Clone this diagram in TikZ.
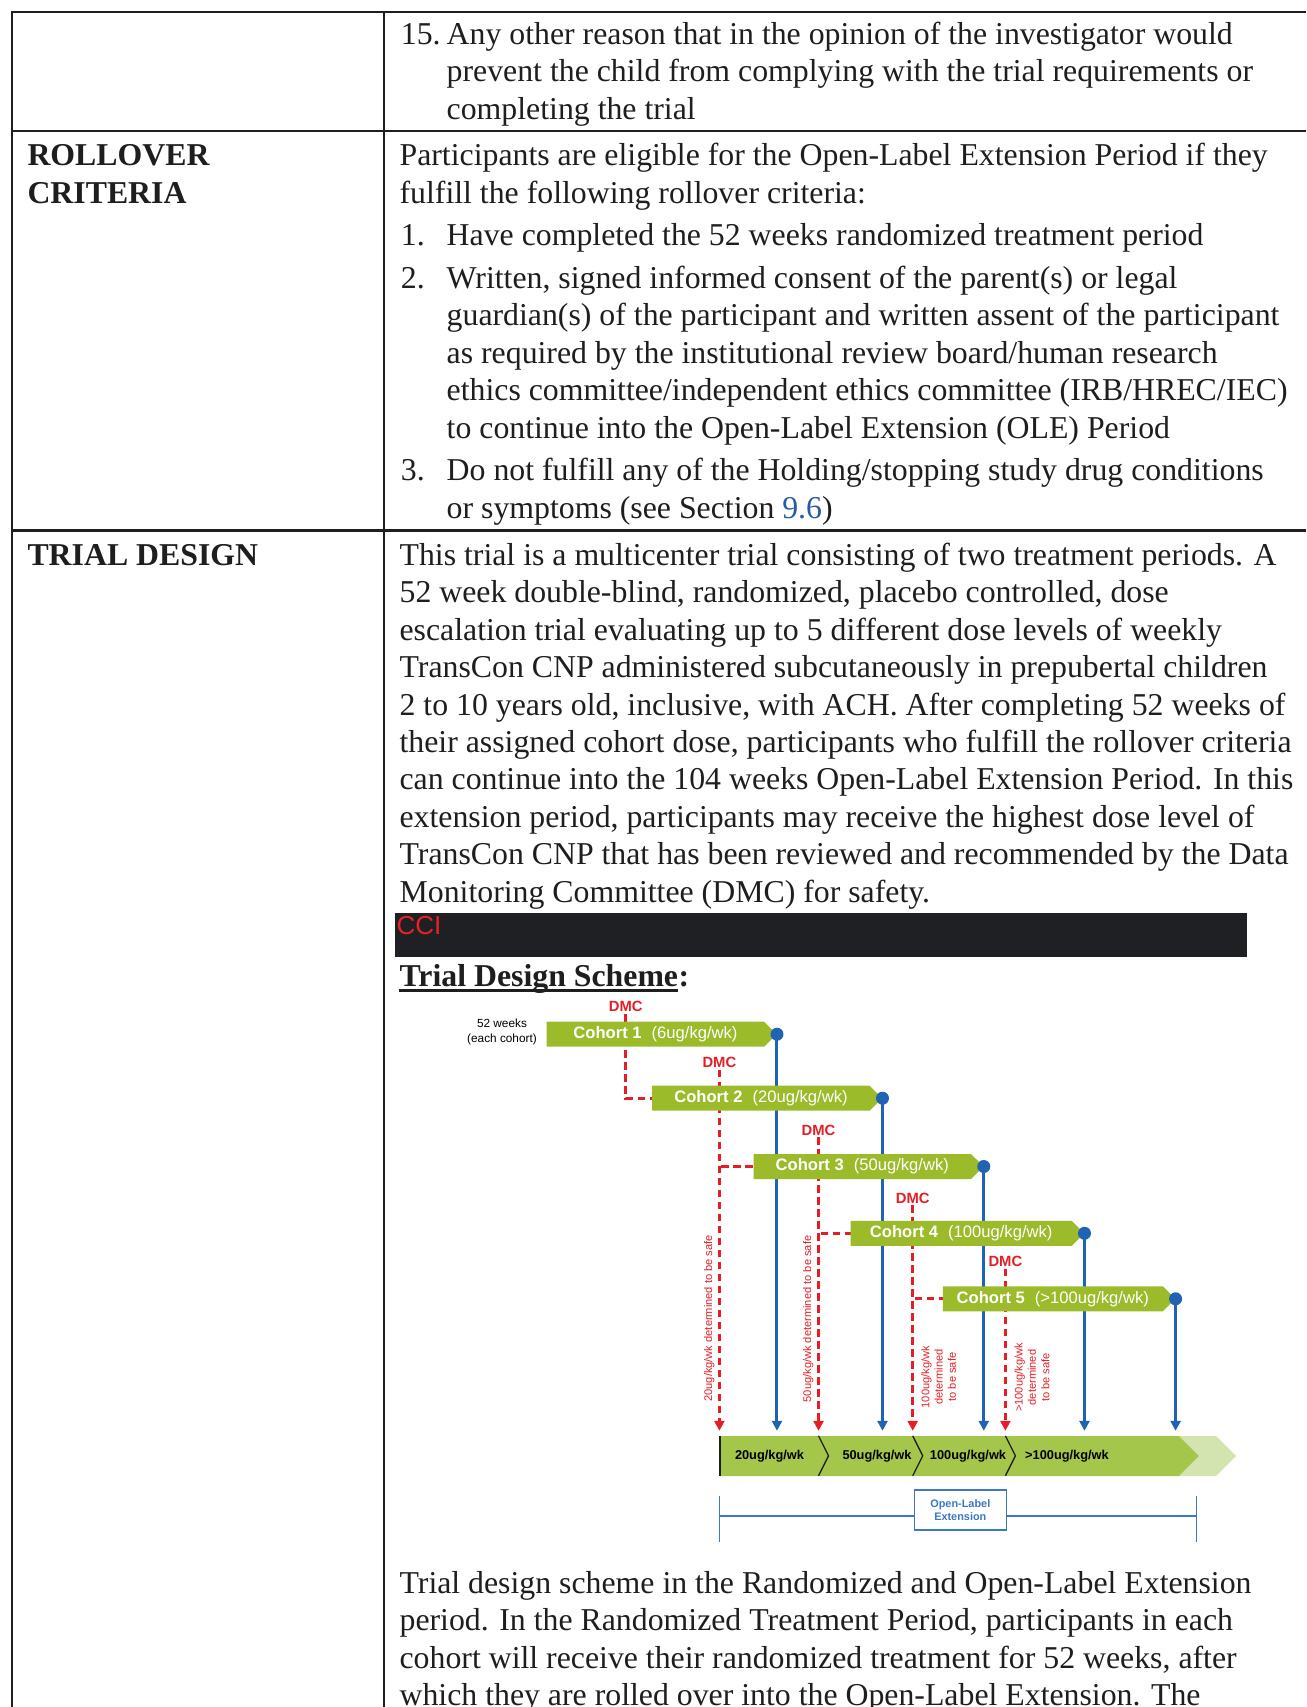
\documentclass[tikz,border=0pt]{standalone}
\usepackage{fontspec}
\setmainfont{Liberation Serif}[Ligatures=NoCommon]
\setsansfont{Liberation Sans}
\usepackage{xcolor}
\usetikzlibrary{arrows.meta,calc,positioning,shapes.symbols,backgrounds}
\definecolor{ink}{HTML}{1E1E1E}
\definecolor{linkblue}{HTML}{2A59A8}
\definecolor{ccibox}{HTML}{1F2023}
\definecolor{ccired}{HTML}{E8202A}
\definecolor{cohortgreen}{HTML}{9BBB2B}
\definecolor{olegreen}{HTML}{A4C64A}
\definecolor{fadegreen}{HTML}{D3E4B0}
\definecolor{dmcred}{HTML}{E41E26}
\definecolor{doseblue}{HTML}{1F63B2}
\definecolor{olebox}{HTML}{3C78C3}
\newcommand{\bodysize}{\fontsize{31.8}{37.45}\selectfont}

\begin{document}
\begin{tikzpicture}[x=1pt,y=-1pt,>={Triangle[length=10pt,width=10pt]}]
    \tikzset{
      body/.style={anchor=base west, inner sep=0pt, font=\bodysize, text=ink},
      head/.style={body, font=\bodysize\bfseries},
      rule/.style={draw=ink, line width=2.2pt},
      cohort/.style={signal, signal to=east, anchor=west, fill=cohortgreen, text=white,
        minimum width=230pt, minimum height=25pt, inner sep=0pt,
        font=\sffamily\fontsize{16.6}{18}\selectfont},
      dmc/.style={text=dmcred, inner sep=0pt, font=\sffamily\bfseries\fontsize{14.8}{16}\selectfont},
      gate/.style={draw=dmcred, line width=3pt, dash pattern=on 7.5pt off 4.5pt, shorten <=2pt},
      roll/.style={draw=doseblue, line width=3pt},
      safe/.style={text=dmcred, rotate=90, align=center, inner sep=0pt,
        font=\sffamily\fontsize{11.1}{13.3}\selectfont},
      level/.style={inner sep=0pt, font=\sffamily\bfseries\fontsize{12.8}{14}\selectfont},
      span/.style={draw=olebox, line width=1.6pt}
    }
    \useasboundingbox (0,0) rectangle (1306,1707);

    % table
    \draw[rule] (11,12.3) -- (1306,12.3);
    \draw[rule] (11,130.7) -- (1306,130.7);
    \draw[rule] (11,530.5) -- (1306,530.5);
    \draw[rule] (12,11.2) -- (12,1707);
    \draw[rule] (384,11.2) -- (384,1707);

    % row: exclusion 15
    \node[body] (ex15) at (400.7,44.2) {15.};
    \node[body] (ex15a) at (446.5,44.2) {Any other reason that in the opinion of the investigator would};
    \node[body] (ex15b) at (446.5,81.7) {prevent the child from complying with the trial requirements or};
    \node[body] (ex15c) at (446.5,119.2) {completing the trial};

    % row: rollover criteria
    \node[head] (rollhd) at (27.3,165.7) {ROLLOVER};
    \node[head] (rollhdb) at (27.3,203.2) {CRITERIA};
    \node[body] (roll) at (399.4,165.7) {Participants are eligible for the Open-Label Extension Period if they};
    \node[body] (rollb) at (399.4,203.2) {fulfill the following rollover criteria:};
    \node[body] (num1) at (400.7,245.7) {1.};
    \node[body] (item1) at (446.5,245.7) {Have completed the 52 weeks randomized treatment period};
    \node[body] (num2) at (400.7,288.2) {2.};
    \foreach \ln [count=\i from 0] in {{Written, signed informed consent of the parent(s) or legal},
        {guardian(s) of the participant and written assent of the participant},
        {as required by the institutional review board/human research},
        {ethics committee/independent ethics committee (IRB/HREC/IEC)},
        {to continue into the Open-Label Extension (OLE) Period}}
      \node[body] (item2-\i) at (446.5,288.2+37.5*\i) {\ln};
    \node[body] (num3) at (400.7,480.7) {3.};
    \node[body] (item3) at (446.5,480.7) {Do not fulfill any of the Holding/stopping study drug conditions};
    \node[body] (item3b) at (446.5,518.2) {or symptoms (see Section {\color{linkblue}9.6})};

    % row: trial design
    \node[head] (designhd) at (27.3,565.2) {TRIAL DESIGN};
    \foreach \ln [count=\i from 0] in {{This trial is a multicenter trial consisting of two treatment periods. A},
        {52 week double-blind, randomized, placebo controlled, dose},
        {escalation trial evaluating up to 5 different dose levels of weekly},
        {TransCon CNP administered subcutaneously in prepubertal children},
        {2 to 10 years old, inclusive, with ACH. After completing 52 weeks of},
        {their assigned cohort dose, participants who fulfill the rollover criteria},
        {can continue into the 104 weeks Open-Label Extension Period. In this},
        {extension period, participants may receive the highest dose level of},
        {TransCon CNP that has been reviewed and recommended by the Data},
        {Monitoring Committee (DMC) for safety.}}
      \node[body] (design-\i) at (399.4,565.2+37.45*\i) {\ln};
    \node[fill=ccibox, minimum width=852pt, minimum height=44pt, inner sep=0pt, anchor=north west]
      (cci) at (395,912.5) {};
    \node[anchor=base west, inner sep=0pt, text=ccired, font=\sffamily\fontsize{26}{28}\selectfont]
      (ccitag) at (396.5,934) {CCI};
    \node[head] (scheme) at (399.4,986) {Trial Design Scheme};
    \node[head] (colon) at (scheme.base east) {:};
    \draw[ink, line width=2.5pt] ([yshift=-4.5pt]scheme.base west) -- ([yshift=-4.5pt]scheme.base east);

    % scheme: cohorts
    \node[align=center, inner sep=0pt, font=\sffamily\fontsize{11.8}{15.7}\selectfont]
      (weeks) at (502,1032) {52 weeks\\(each cohort)};
    \node[cohort] (c1) at (546.5,1034.2) {\textbf{Cohort 1}\hspace{10pt}(6ug/kg/wk)};
    \node[cohort] (c2) at (652,1098.2) {\textbf{Cohort 2}\hspace{10pt}(20ug/kg/wk)};
    \node[cohort] (c3) at (753.3,1166.5) {\textbf{Cohort 3}\hspace{10pt}(50ug/kg/wk)};
    \node[cohort, minimum width=233.5pt] (c4) at (850.5,1233.3) {\textbf{Cohort 4}\hspace{10pt}(100ug/kg/wk)};
    \node[cohort, minimum width=232.5pt] (c5) at (942.6,1298.8) {\textbf{Cohort 5}\hspace{10pt}(>100ug/kg/wk)};
    \node[dmc] (dmc1) at (625.8,1006.7) {DMC};
    \node[dmc] (dmc2) at (719.4,1062.5) {DMC};
    \node[dmc] (dmc3) at (818.5,1130) {DMC};
    \node[dmc] (dmc4) at (912.7,1198) {DMC};
    \node[dmc] (dmc5) at (1005.4,1261.5) {DMC};

    % open-label extension bar
    \node[signal, signal to=east, anchor=west, fill=fadegreen, minimum width=58pt, minimum height=40pt,
      inner sep=0pt] (fade) at (1178,1456) {};
    \node[signal, signal to=east, anchor=west, fill=olegreen, minimum width=479pt, minimum height=40pt,
      inner sep=0pt] (ole) at (719.6,1456) {};
    \draw[ink, line width=2pt] (ole.north west) -- (ole.south west);
    \foreach \d in {dmc3,dmc4,dmc5}
      \draw[ink, line width=1.3pt] (\d |- ole.north) -- ++(10,20) -- ++(-10,20);
    \node[level] (lv20) at (769.5,1456.7) {20ug/kg/wk};
    \node[level] (lv50) at (877,1456.7) {50ug/kg/wk};
    \node[level] (lv100) at (968,1456.7) {100ug/kg/wk};
    \node[level] (lv100p) at (1067,1456.7) {>100ug/kg/wk};

    % dose safety labels
    \node[safe] (safe20) at (709.3,1318.3) {20ug/kg/wk determined to be safe};
    \node[safe] (safe50) at (808.3,1319) {50ug/kg/wk determined to be safe};
    \node[safe] (safe100) at (938.7,1377) {100ug/kg/wk\\determined\\to be safe};
    \node[safe] (safe100p) at (1032,1377.5) {>100ug/kg/wk\\determined\\to be safe};

    % DMC and rollover connectors, behind the bars
    \begin{scope}[on background layer]
      \draw[gate] (dmc1.south) |- (c2.west);
      \draw[gate, ->, shorten >=5pt] (dmc2.south) -- (dmc2.south |- ole.north);
      \draw[gate] (dmc2.south |- c3.west) -- (c3.west);
      \draw[gate, ->, shorten >=5pt] (dmc3.south) -- (dmc3.south |- ole.north);
      \draw[gate] (dmc3.south |- c4.west) -- (c4.west);
      \draw[gate, ->, shorten >=5pt] (dmc4.south) -- (dmc4.south |- ole.north);
      \draw[gate] (dmc4.south |- c5.west) -- (c5.west);
      \draw[gate, ->, shorten >=5pt] (dmc5.south) -- (dmc5.south |- ole.north);
      \foreach \c in {c1,c2,c3,c4,c5}
        \draw[roll, ->, shorten >=5pt] (\c.east) -- (\c.east |- ole.north);
    \end{scope}
    \foreach \c in {c1,c2,c3,c4,c5}
      \fill[doseblue] (\c.east) circle[radius=6.5pt];

    % extension span
    \node[draw=olebox, line width=1.6pt, fill=white, minimum width=92pt, minimum height=40pt, inner sep=0pt,
      align=center, text=olebox, font=\sffamily\bfseries\fontsize{10.9}{13.7}\selectfont]
      (olelab) at (960.3,1510) {Open-Label\\Extension};
    \coordinate (spanl) at (719.6,1515.7);
    \coordinate (spanr) at (1196.4,1515.7);
    \draw[span] (spanl) -- (olelab.west |- spanl);
    \draw[span] (olelab.east |- spanr) -- (spanr);
    \draw[span] ([yshift=19.7pt]spanl) -- ([yshift=-26pt]spanl);
    \draw[span] ([yshift=19.7pt]spanr) -- ([yshift=-26pt]spanr);

    % caption paragraph
    \foreach \ln [count=\i from 0] in {{Trial design scheme in the Randomized and Open-Label Extension},
        {period. In the Randomized Treatment Period, participants in each},
        {cohort will receive their randomized treatment for 52 weeks, after},
        {which they are rolled over into the Open-Label Extension. The}}
      \node[body] (caption-\i) at (399.4,1593.3+37.45*\i) {\ln};
\end{tikzpicture}
\end{document}
